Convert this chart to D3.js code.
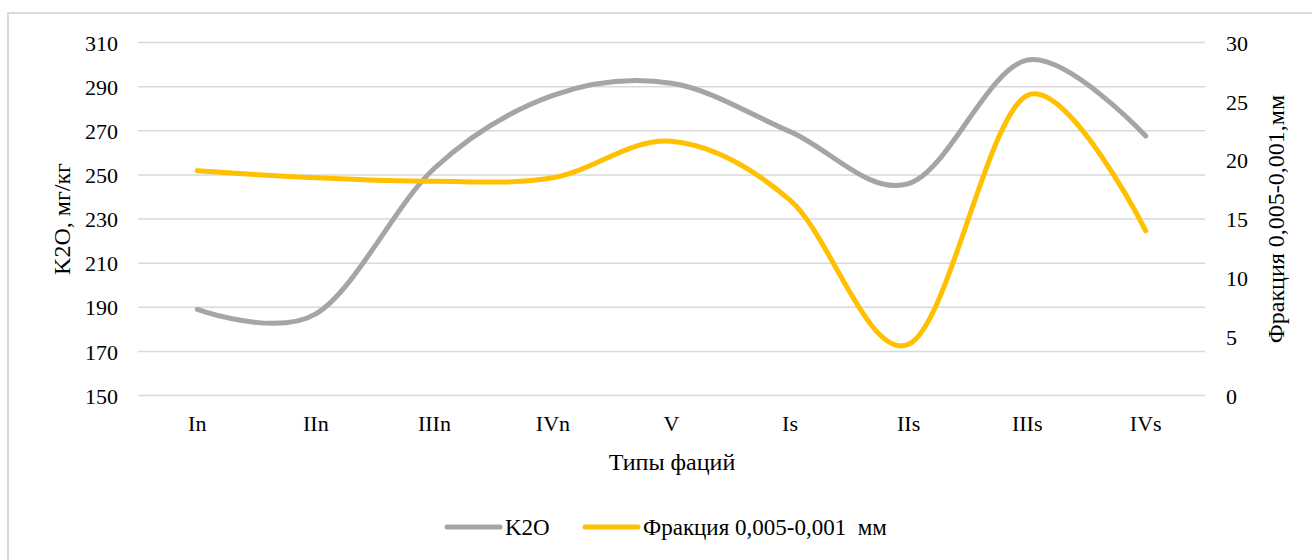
<!DOCTYPE html>
<html><head><meta charset="utf-8">
<script src="https://cdn.jsdelivr.net/npm/d3@7"></script>
<style>body{margin:0;background:#fff}svg{display:block}text{font-family:"Liberation Serif","Times New Roman",serif;fill:#000}</style>
</head><body><svg id="c" width="1312" height="560"></svg>
<script>
const categories = ["In","IIn","IIIn","IVn","V","Is","IIs","IIIs","IVs"];
const k2o = [189, 187, 253, 286, 291.5, 269.6, 246, 302, 267.6];
const fraction = [19.1, 18.5, 18.2, 18.5, 21.6, 16.6, 4.35, 25.5, 14.0];
const leftTicks = [150,170,190,210,230,250,270,290,310];
const rightTicks = [0,5,10,15,20,25,30];
const seriesNames = ["K2O", "Фракция 0,005-0,001  мм"];

const svg = d3.select("#c");
// outer frame
svg.append("rect").attr("x",8).attr("y",13).attr("width",1400).attr("height",600)
  .attr("fill","none").attr("stroke","#d9d9d9").attr("stroke-width",2);

const x = d3.scaleBand().domain(categories).range([138,1205]).padding(0);
const yL = d3.scaleLinear().domain([150,310]).range([395.5,42.5]);
const yR = d3.scaleLinear().domain([0,30]).range([395.5,42.5]);
const cx = d => x(d) + x.bandwidth()/2;

// gridlines
svg.append("g").selectAll("line").data(leftTicks).join("line")
  .attr("x1",138).attr("x2",1205).attr("y1",d=>yL(d)).attr("y2",d=>yL(d))
  .attr("stroke","#d9d9d9").attr("stroke-width",1.5);

// left axis
const gL = svg.append("g").attr("transform","translate(118,0)")
  .call(d3.axisLeft(yL).tickValues(leftTicks).tickSize(0).tickPadding(0));
gL.select(".domain").remove();
gL.selectAll("text").style("font-size","22px").attr("dy","0.35em");

// right axis
const gR = svg.append("g").attr("transform","translate(1226,0)")
  .call(d3.axisRight(yR).tickValues(rightTicks).tickSize(0).tickPadding(0));
gR.select(".domain").remove();
gR.selectAll("text").style("font-size","22px").attr("dy","0.35em");

// x axis
const gX = svg.append("g").attr("transform","translate(0,396)")
  .call(d3.axisBottom(x).tickSize(0).tickPadding(0));
gX.select(".domain").remove();
gX.selectAll("text").style("font-size","22px").attr("y",19).attr("dy","0.71em");

// titles
svg.append("text").attr("transform","translate(70,219) rotate(-90)").attr("text-anchor","middle")
  .style("font-size","24px").text("K2O, мг/кг");
svg.append("text").attr("transform","translate(1284,219) rotate(-90)").attr("text-anchor","middle")
  .style("font-size","24px").text("Фракция 0,005-0,001,мм");
svg.append("text").attr("x",672).attr("y",470).attr("text-anchor","middle")
  .style("font-size","24px").text("Типы фаций");

// lines
const lineL = d3.line().x((d,i)=>cx(categories[i])).y(d=>yL(d)).curve(d3.curveCardinal.tension(0));
const lineR = d3.line().x((d,i)=>cx(categories[i])).y(d=>yR(d)).curve(d3.curveCardinal.tension(0));
svg.append("path").attr("d",lineL(k2o)).attr("fill","none").attr("stroke","#A5A5A5")
  .attr("stroke-width",5).attr("stroke-linecap","round");
svg.append("path").attr("d",lineR(fraction)).attr("fill","none").attr("stroke","#FFC000")
  .attr("stroke-width",5).attr("stroke-linecap","round");

// legend
const legend = [{name:seriesNames[0],color:"#A5A5A5",x:447},{name:seriesNames[1],color:"#FFC000",x:585}];
const lg = svg.append("g").selectAll("g").data(legend).join("g").attr("transform",d=>`translate(${d.x},527)`);
lg.append("line").attr("x1",0).attr("x2",53).attr("stroke",d=>d.color).attr("stroke-width",5).attr("stroke-linecap","round");
lg.append("text").attr("x",58).attr("dy","0.35em").style("font-size","23px").style("white-space","pre").text(d=>d.name);
</script></body></html>
